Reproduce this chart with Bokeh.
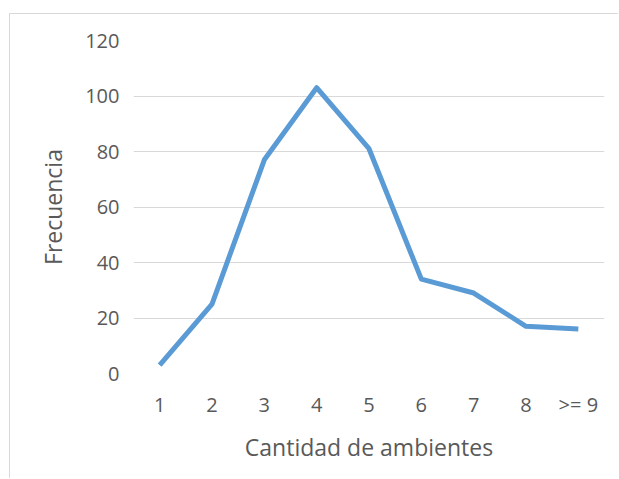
from bokeh.plotting import figure
from bokeh.models import FactorRange, Range1d, FixedTicker
from bokeh.embed import file_html
from bokeh.resources import INLINE

categories = ["1", "2", "3", "4", "5", "6", "7", "8", ">= 9"]
frecuencia = [3, 25, 77, 103, 81, 34, 29, 17, 16]
y_ticks = [0, 20, 40, 60, 80, 100, 120]

FONT = "Open Sans"
TXT = "#595959"
GRID = "#d9d9d9"

p = figure(width=609, height=465, output_backend="svg", toolbar_location=None,
           x_range=FactorRange(*categories, range_padding=0),
           y_range=Range1d(0, 120),
           min_border_left=123, min_border_right=15, min_border_top=26, min_border_bottom=106)
p.styles = {"margin-left": "9px", "margin-top": "13px",
            "border-left": f"1px solid {GRID}", "border-top": f"1px solid {GRID}"}
p.outline_line_color = None

p.line(categories, frecuencia, line_color="#5B9BD5", line_width=5, line_join="round")

p.yaxis.ticker = FixedTicker(ticks=y_ticks)
p.ygrid.grid_line_color = GRID
p.ygrid.grid_line_width = 1
p.xgrid.grid_line_color = None

for ax in (p.xaxis[0], p.yaxis[0]):
    ax.axis_line_color = None
    ax.major_tick_line_color = None
    ax.minor_tick_line_color = None
    ax.major_tick_out = 0
    ax.major_tick_in = 0
    ax.major_label_text_font = FONT
    ax.major_label_text_font_size = "20px"
    ax.major_label_text_color = TXT
    ax.axis_label_text_font = FONT
    ax.axis_label_text_font_size = "23px"
    ax.axis_label_text_font_style = "normal"
    ax.axis_label_text_color = TXT

p.yaxis.axis_label = "Frecuencia"
p.xaxis.axis_label = "Cantidad de ambientes"
p.yaxis.major_label_standoff = 14
p.yaxis.axis_label_standoff = 13
p.xaxis.major_label_standoff = 17
p.xaxis.axis_label_standoff = 10

open("out.html", "w").write(file_html(p, INLINE))
